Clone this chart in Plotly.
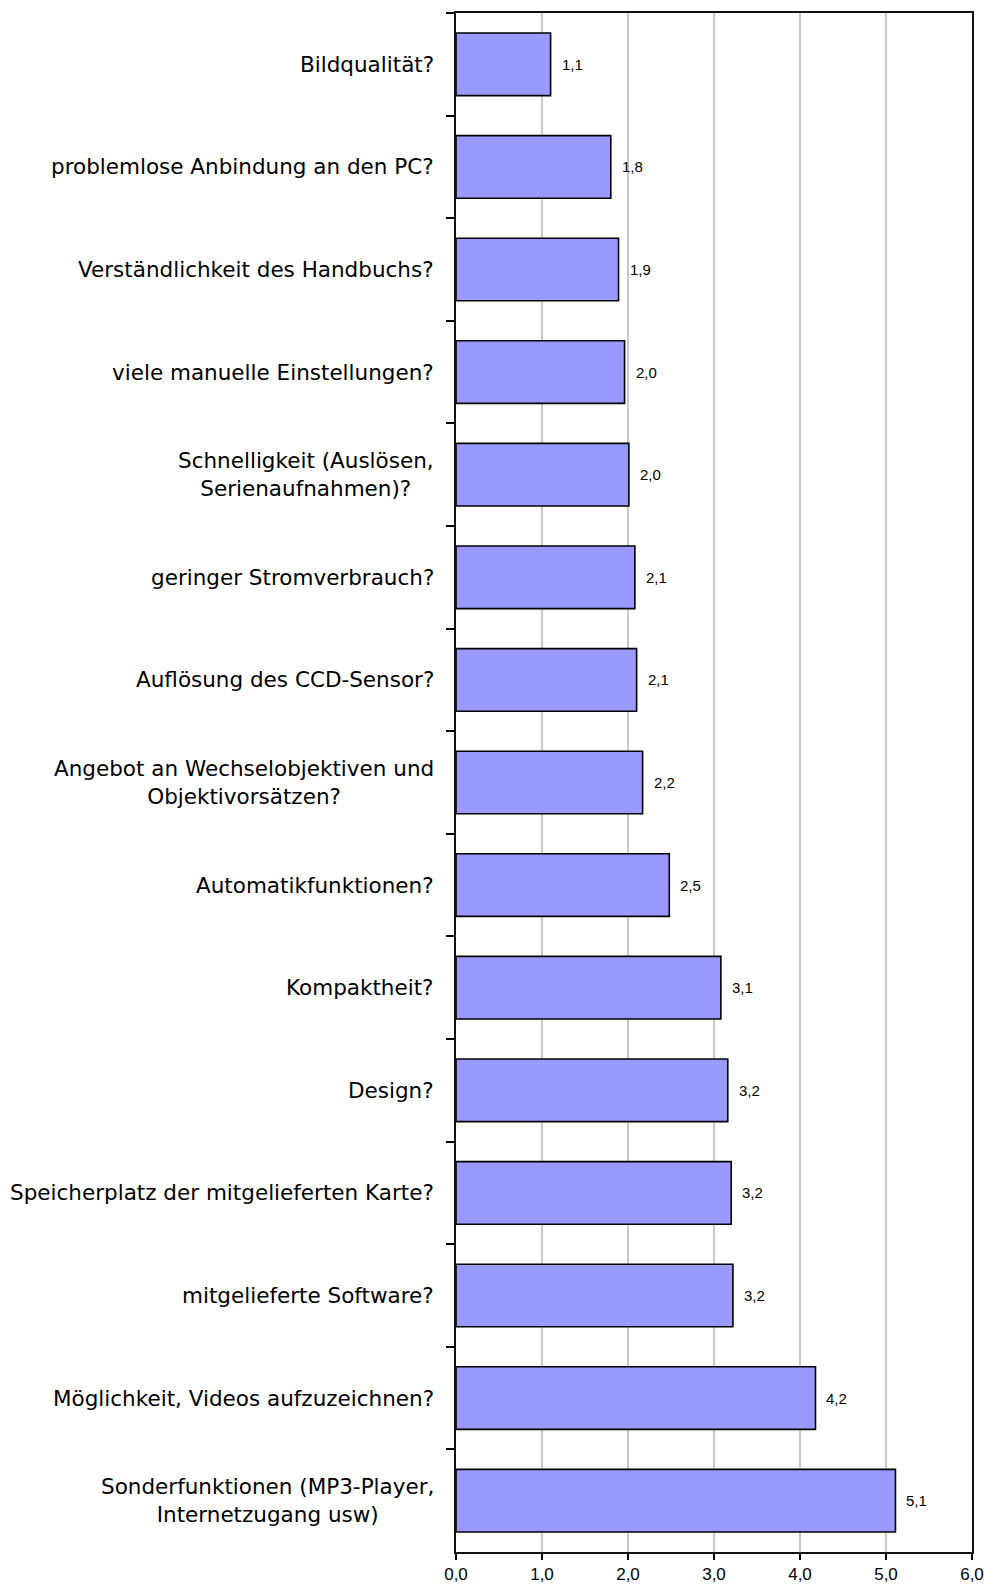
import plotly.graph_objects as go

categories = [
    "Bildqualität?",
    "problemlose Anbindung an den PC?",
    "Verständlichkeit des Handbuchs?",
    "viele manuelle Einstellungen?",
    "Schnelligkeit (Auslösen,<br>Serienaufnahmen)?",
    "geringer Stromverbrauch?",
    "Auflösung des CCD-Sensor?",
    "Angebot an Wechselobjektiven und<br>Objektivorsätzen?",
    "Automatikfunktionen?",
    "Kompaktheit?",
    "Design?",
    "Speicherplatz der mitgelieferten Karte?",
    "mitgelieferte Software?",
    "Möglichkeit, Videos aufzuzeichnen?",
    "Sonderfunktionen (MP3-Player,<br>Internetzugang usw)",
]
values = [1.10, 1.80, 1.89, 1.96, 2.01, 2.08, 2.10, 2.17, 2.48, 3.08, 3.16, 3.20, 3.22, 4.18, 5.11]
x_ticks = [0, 1, 2, 3, 4, 5, 6]

FONT = "DejaVu Sans, Liberation Sans, Arial, sans-serif"

fig = go.Figure()
fig.add_trace(go.Bar(
    x=values, y=categories, orientation="h",
    marker=dict(color="#9999FF", line=dict(color="#000000", width=1.6)),
    width=0.61,
    hoverinfo="x+y",
))

annotations = []
for c, v in zip(categories, values):
    annotations.append(dict(
        x=v, y=c, xref="x", yref="y", text=f"{v:.1f}".replace(".", ","),
        showarrow=False, xanchor="left", xshift=9,
        font=dict(family="Liberation Sans, Arial, sans-serif", size=15, color="#000"),
    ))
    annotations.append(dict(
        x=0, y=c, xref="paper", yref="y", text=c,
        showarrow=False, xanchor="right", xshift=-20, align="center",
        font=dict(family=FONT, size=21.5, color="#000"),
    ))

fig.update_layout(
    width=984, height=1587,
    margin=dict(l=456, r=12, t=13, b=35),
    plot_bgcolor="white", paper_bgcolor="white",
    showlegend=False,
    separators=",.",
    annotations=annotations,
    bargap=0.39,
)
fig.update_xaxes(
    range=[0, 6], tickvals=x_ticks, tickformat=".1f",
    showgrid=True, gridcolor="#c8c8c8", gridwidth=1.5,
    showline=True, linecolor="#111", linewidth=2, mirror=True,
    ticks="outside", ticklen=6, tickcolor="#000", tickwidth=2,
    tickfont=dict(family="Liberation Sans, Arial, sans-serif", size=17, color="#000"),
    zeroline=False, fixedrange=True, automargin=False,
)
fig.update_yaxes(
    autorange="reversed", showticklabels=False,
    showline=True, linecolor="#111", linewidth=2, mirror=True,
    ticks="outside", ticklen=8, tickcolor="#000", tickwidth=2,
    tickson="boundaries", showgrid=False, fixedrange=True, automargin=False,
)

fig.write_html(
    "out.html",
    config={"displayModeBar": False},
    post_script="document.body.style.margin='0';document.body.style.overflow='hidden';",
)
